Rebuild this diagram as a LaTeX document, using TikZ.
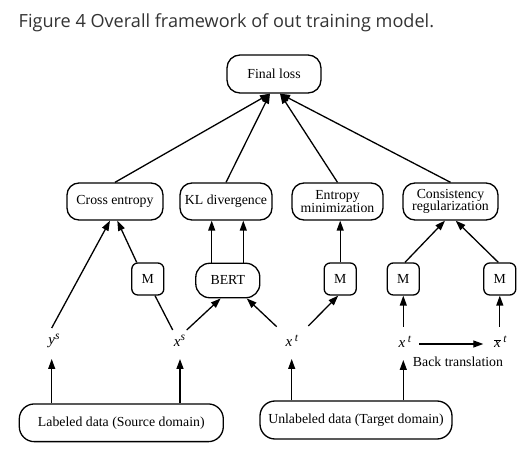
\documentclass[tikz,border=0pt]{standalone}
\usepackage{fontspec}
\setmainfont{Liberation Serif}
\newfontfamily\titlefont{Open Sans}
\usetikzlibrary{arrows.meta}
\definecolor{titlegray}{HTML}{333333}
\newcommand{\supit}[1]{\raisebox{5.5pt}{\fontsize{11.5}{12}\selectfont\textit{#1}}}
\tikzset{
  box/.style={draw, line width=1.3pt, rounded corners=12pt, minimum height=37pt, inner sep=1pt, align=center, font=\fontsize{13.8}{14.5}\selectfont},
  mbox/.style={draw, line width=1.3pt, rounded corners=6pt, minimum width=32pt, minimum height=32pt, inner sep=0pt, font=\fontsize{13.8}{14.5}\selectfont},
  lbl/.style={inner sep=0pt, font=\fontsize{15}{15.5}\selectfont},
  conn/.style={line width=1.3pt},
  arr/.style={line width=1.3pt, -{Triangle[length=10pt,width=7pt]}}
}
\begin{document}
\begin{tikzpicture}[x=1pt,y=-1pt]
\useasboundingbox (0,0) rectangle (531,454);
\node[anchor=base west, inner sep=0pt, text=titlegray, font=\titlefont\fontsize{18.1}{20}\selectfont] (title) at (18.5,28) {Figure 4 Overall framework of out training model.};
% top boxes
\node[box, minimum width=94pt, minimum height=38pt, rounded corners=13pt] (fl) at (274,74) {Final loss};
\node[box, minimum width=96pt] (ce) at (115,201.5) {Cross entropy};
\node[box, minimum width=92pt] (kl) at (226,201.5) {KL divergence};
\node[box, minimum width=91pt] (em) at (337.5,201.5) {Entropy\\[-2pt]minimization};
\node[box, minimum width=95pt] (cr) at (450.5,201.5) {Consistency\\[-2pt]regularization};
% middle
\node[mbox] (m1) at (147.8,279) {M};
\node[box, minimum width=64pt, minimum height=34.5pt, rounded corners=14pt] (bert) at (227.8,280.5) {BERT};
\node[mbox] (m2) at (340.2,279) {M};
\node[mbox] (m3) at (403.3,279) {M};
\node[mbox] (m4) at (499.8,279) {M};
% labels
\node[lbl] (ys) at (54,341) {\textit{y}\supit{s}};
\node[lbl] (xs) at (179.5,341) {\textit{x}\supit{s}};
\node[lbl] (xt1) at (292,341) {\textit{x}\,\supit{t}};
\node[lbl] (xt2) at (405,342) {\textit{x}\,\supit{t}};
\node[lbl] (xbt) at (500.5,342) {$\overline{\mbox{\textit{x}}}$\,\supit{t}};
\node[inner sep=0pt, font=\fontsize{13.8}{14.5}\selectfont] (btl) at (458,361.7) {Back translation};
% bottom boxes
\node[box, minimum width=204pt, minimum height=37.7pt, rounded corners=15pt] (lab) at (121.3,422.8) {Labeled data (Source domain)};
\node[box, minimum width=192pt, minimum height=38pt, rounded corners=15pt] (unl) at (356,420) {Unlabeled data (Target domain)};
% arrows to final loss
\draw[arr] (ce.north) -- ([xshift=-4pt]fl.south);
\draw[arr] (kl.north) -- ([xshift=-4pt]fl.south);
\draw[arr] (em.north) -- ([xshift=6pt]fl.south);
\draw[arr] (cr.north) -- ([xshift=6pt]fl.south);
% cross entropy inputs
\draw[arr] ([xshift=-2.3pt,yshift=13pt]ys.center) -- ([xshift=-5pt]ce.south);
\draw[arr] ([xshift=-11.1pt]m1.north) -- ([xshift=2.3pt]ce.south);
\draw[conn] ([xshift=7.2pt]m1.south) -- ([xshift=-6.8pt,yshift=11pt]xs.center);
% KL inputs
\draw[arr] ([xshift=-16.1pt]bert.north) -- ([xshift=-16.1pt]bert.north |- kl.south);
\draw[arr] ([xshift=15.5pt]bert.north) -- ([xshift=15.5pt]bert.north |- kl.south);
\draw[arr] ([xshift=7.2pt,yshift=11pt]xs.center) -- ([xshift=-7.1pt]bert.south);
\draw[arr] ([xshift=-15.3pt,yshift=14.3pt]xt1.center) -- ([xshift=18.9pt]bert.south);
% entropy minimization
\draw[arr] ([xshift=16.3pt,yshift=15pt]xt1.center) -- ([xshift=-2pt]m2.south);
\draw[arr] (m2.north) -- (m2.north |- em.south);
% consistency
\draw[arr] ([xshift=1.7pt]m3.north) -- ([xshift=-5.5pt]cr.south);
\draw[arr] ([xshift=-1.5pt]m4.north) -- ([xshift=5.2pt]cr.south);
\draw[arr] ([yshift=15.3pt]xt2.center -| m3.south) -- (m3.south);
\draw[arr] ([yshift=15.3pt]xbt.center -| m4.south) -- (m4.south);
\draw[arr] ([xshift=14.3pt,yshift=-2pt]xt2.center) -- ([xshift=-17.2pt,yshift=-2pt]xbt.center);
% data arrows
\draw[arr] (lab.north -| ys.center) ++(-2.3pt,0) -- ([xshift=-2.3pt,yshift=-18pt]ys.center);
\draw[arr] (lab.north -| xs.center) ++(0.5pt,0) -- ([xshift=0.5pt,yshift=-18pt]xs.center);
\draw[arr] (unl.north -| xt1.center) ++(-0.3pt,0) -- ([xshift=-0.3pt,yshift=-18pt]xt1.center);
\draw[arr] (unl.north -| xt2.center) ++(-1.7pt,0) -- ([xshift=-1.7pt,yshift=-18pt]xt2.center);
\end{tikzpicture}
\end{document}
